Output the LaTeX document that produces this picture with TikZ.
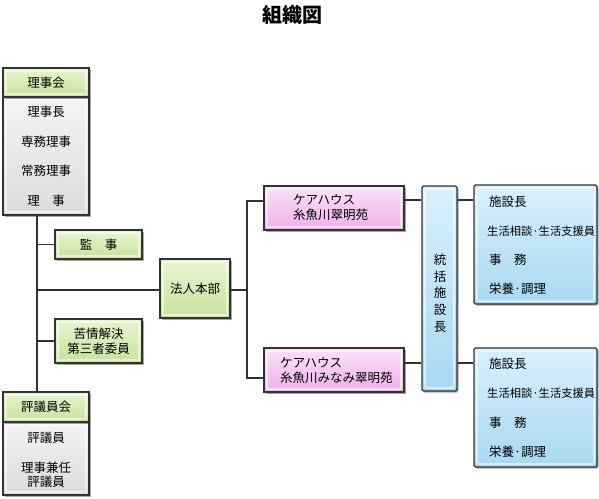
\documentclass[tikz,border=0pt]{standalone}
\usepackage{fontspec}
\setmainfont{Noto Sans CJK JP}
\usetikzlibrary{shadows}
\definecolor{edge}{HTML}{333333}
\definecolor{gtop}{HTML}{E8F5D0}
\definecolor{gbot}{HTML}{C6E29C}
\definecolor{ptop}{HTML}{FBE2F8}
\definecolor{pbot}{HTML}{EDB0E8}
\definecolor{btop}{HTML}{D9F0FC}
\definecolor{bbot}{HTML}{A8D8F2}
\definecolor{stop}{HTML}{F4F4F5}
\definecolor{sbot}{HTML}{DADBDC}
\tikzset{
  inset/.style={path picture={\draw[white,opacity=.55,line width=1.6pt]
     ([shift={(3pt,-3pt)}]path picture bounding box.north west) rectangle
     ([shift={(-3pt,3pt)}]path picture bounding box.south east);}},
  boxbase/.style={draw=edge,line width=1.1pt,inner sep=0pt,align=center,
     font=\fontsize{12.5}{15}\selectfont,
     drop shadow={shadow xshift=1.5pt,shadow yshift=-1.5pt,opacity=.35,fill=black},inset},
  greenbox/.style={boxbase,top color=gtop,bottom color=gbot},
  pinkbox/.style={boxbase,top color=ptop,bottom color=pbot},
  bluebox/.style={boxbase,top color=btop,bottom color=bbot,rounded corners=1.5pt},
  greybox/.style={boxbase,top color=stop,bottom color=sbot},
  lbl/.style={font=\fontsize{12.5}{15}\selectfont,inner sep=0pt},
  llbl/.style={lbl,anchor=west},
  conn/.style={draw=edge,line width=1.1pt},
}
\begin{document}
\begin{tikzpicture}[x=1pt,y=-1pt]
\useasboundingbox (0,0) rectangle (599,498);
\node[font=\fontsize{20}{22}\selectfont\bfseries] (title) at (292,15) {組織図};

% 理事会 panel
\node[greybox,minimum width=86pt,minimum height=118pt] (rijibody) at (46,156) {};
\node[greenbox,minimum width=86pt,minimum height=29pt] (riji) at (46,82.5) {理事会};
\node[lbl] (r1) at (46,112) {理事長};
\node[lbl] (r2) at (46,142) {専務理事};
\node[lbl] (r3) at (46,171) {常務理事};
\node[lbl] (r4) at (46,201) {理\hspace{1em}事};

% 評議員会 panel
\node[greybox,minimum width=86pt,minimum height=73pt] (hyobody) at (46,458.5) {};
\node[greenbox,minimum width=86pt,minimum height=30pt] (hyo) at (46,407) {評議員会};
\node[lbl] (h1) at (46,438) {評議員};
\node[lbl,align=center,font=\fontsize{12.5}{14}\selectfont] (h2) at (46,475) {理事兼任\\評議員};

% side boxes
\node[greenbox,minimum width=87pt,minimum height=29pt] (kanji) at (98.5,244.5) {監\hspace{1em}事};
\node[greenbox,minimum width=87pt,minimum height=44pt,font=\fontsize{12.5}{14.5}\selectfont] (kujo) at (98.5,341) {苦情解決\\第三者委員};
\node[greenbox,minimum width=70pt,minimum height=59pt] (honbu) at (195,288.5) {法人本部};

% care houses
\node[pinkbox,minimum width=140pt,minimum height=44pt] (care1) at (334,208) {};
\node[llbl] (c1a) at (293,200) {ケアハウス};
\node[llbl] (c1b) at (293,215) {糸魚川翠明苑};
\node[pinkbox,minimum width=140pt,minimum height=44pt] (care2) at (334,370) {};
\node[llbl] (c2a) at (280,363) {ケアハウス};
\node[llbl] (c2b) at (280,378) {糸魚川みなみ翠明苑};

% 統括施設長
\node[bluebox,minimum width=35pt,minimum height=205pt] (tokatsu) at (439.5,288.5) {};
\node[lbl,align=center,font=\fontsize{12.5}{16.7}\selectfont] (tklbl) at (440,293) {統\\括\\施\\設\\長};

% facility boxes
\node[bluebox,minimum width=123pt,minimum height=119pt] (fac1) at (535.5,244.5) {};
\node[llbl] (f1a) at (489,202) {施設長};
\node[llbl,font=\fontsize{11.3}{13}\selectfont] (f1b) at (487,231) {生活相談·生活支援員};
\node[llbl] (f1c) at (489,260) {事\hspace{1em}務};
\node[llbl] (f1d) at (489,289) {栄養·調理};
\node[bluebox,minimum width=123pt,minimum height=119pt] (fac2) at (535.5,407.5) {};
\node[llbl] (f2a) at (489,364) {施設長};
\node[llbl,font=\fontsize{11.3}{13}\selectfont] (f2b) at (487,393) {生活相談·生活支援員};
\node[llbl] (f2c) at (489,423) {事\hspace{1em}務};
\node[llbl] (f2d) at (489,452) {栄養·調理};

% connectors
\coordinate (sp1) at (37,215);
\coordinate (sp2) at (37,392);
\draw[conn] (sp1) -- (sp2);
\draw[conn] (kanji.west) -- (kanji.west -| sp1);
\draw[conn] (kujo.west) -- (kujo.west -| sp1);
\draw[conn] (honbu.west |- 0,290) -- (37,290);
\coordinate (br1) at (247,201);
\coordinate (br2) at (247,378);
\draw[conn] (honbu.east |- 0,290) -- (247,290);
\draw[conn] (care1.west |- br1) -- (br1) -- (br2) -- (care2.west |- br2);
\draw[conn] (care1.east |- 0,200) -- (tokatsu.west |- 0,200);
\draw[conn] (care2.east |- 0,363) -- (tokatsu.west |- 0,363);
\draw[conn] (tokatsu.east |- 0,200) -- (fac1.west |- 0,200);
\draw[conn] (tokatsu.east |- 0,363) -- (fac2.west |- 0,363);
\end{tikzpicture}
\end{document}
